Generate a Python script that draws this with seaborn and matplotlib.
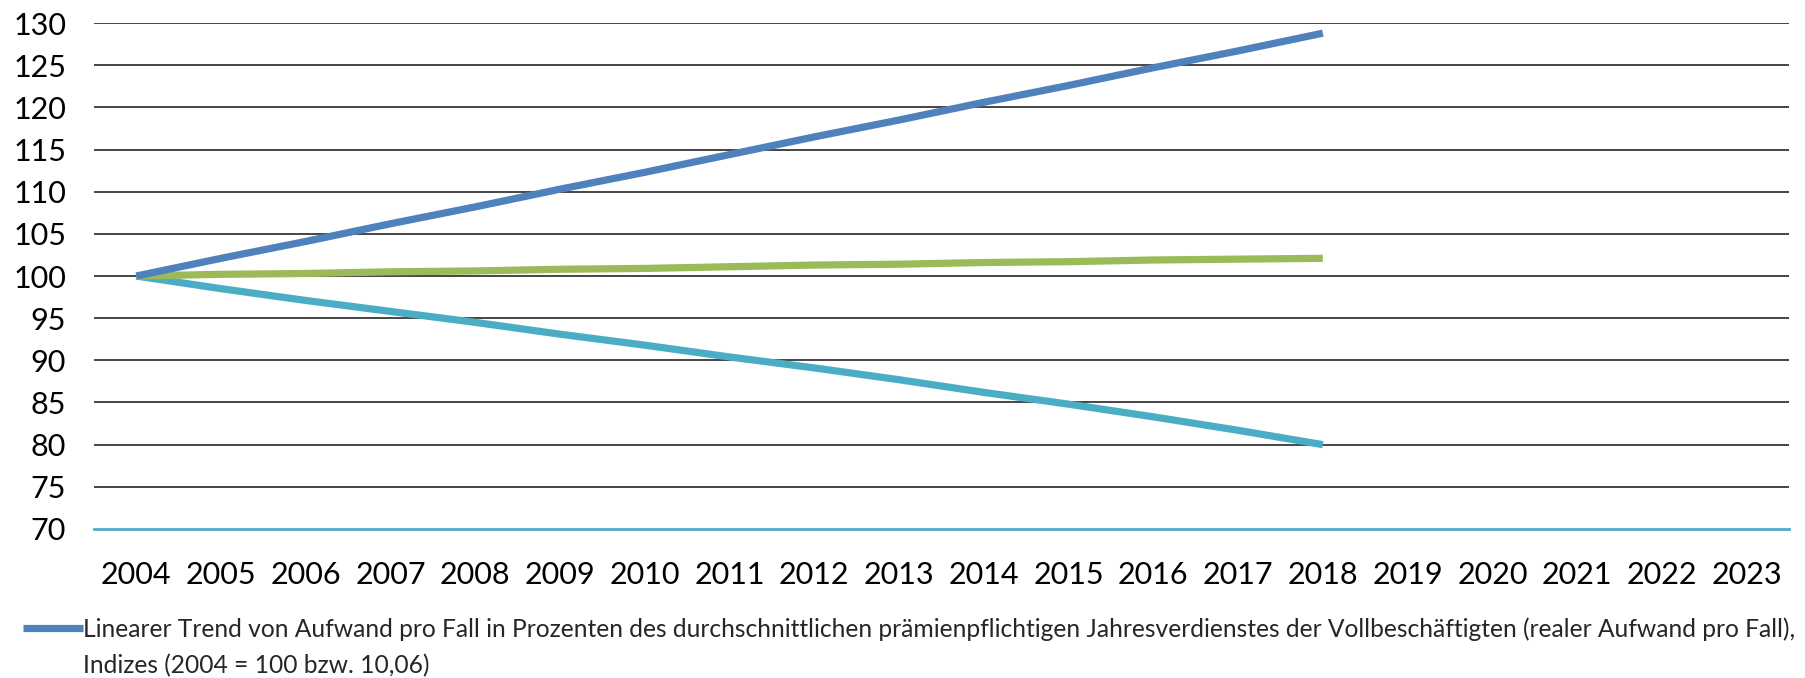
import matplotlib
matplotlib.use("Agg")
import matplotlib.pyplot as plt
import seaborn as sns
import pandas as pd
from matplotlib.lines import Line2D

# ---- data ----
years_axis = list(range(2004, 2024))
years = list(range(2004, 2019))
trend_aufwand = [100.0, 102.1, 104.1, 106.2, 108.2, 110.3, 112.3, 114.4, 116.5,
                 118.5, 120.6, 122.6, 124.7, 126.7, 128.8]
trend_green = [100.0, 100.2, 100.3, 100.5, 100.6, 100.8, 100.9, 101.1, 101.3,
               101.4, 101.6, 101.7, 101.9, 102.0, 102.1]
trend_lightblue = [100.0, 98.5, 97.1, 95.8, 94.5, 93.1, 91.8, 90.4, 89.1,
                   87.7, 86.2, 84.8, 83.3, 81.7, 80.0]
y_ticks = list(range(70, 131, 5))
legend_line1 = ("Linearer Trend von Aufwand pro Fall in Prozenten des durchschnittlichen "
                "prämienpflichtigen Jahresverdienstes der Vollbeschäftigten (realer Aufwand pro Fall),")
legend_line2 = "Indizes (2004 = 100 bzw. 10,06)"

colors = {"blue": "#4F81BD", "green": "#9BBB59", "lightblue": "#4BACC6"}

sns.set_theme(style="white")
plt.rcParams["font.family"] = ["Lato", "DejaVu Sans"]

df = pd.DataFrame({
    "Jahr": years * 3,
    "Wert": trend_aufwand + trend_green + trend_lightblue,
    "Serie": ["blue"] * len(years) + ["green"] * len(years) + ["lightblue"] * len(years),
})

fig = plt.figure(figsize=(18.06, 6.78), dpi=100)
ax = fig.add_axes([0.052, 0.2198, 0.9386, 0.7462])

for y in y_ticks[1:]:
    ax.axhline(y, color="#262626", lw=1.2, zorder=1)

sns.lineplot(data=df, x="Jahr", y="Wert", hue="Serie", palette=colors,
             hue_order=["lightblue", "green", "blue"],
             linewidth=5.2, ax=ax, legend=False, zorder=3)
for ln in ax.lines:
    ln.set_solid_capstyle("butt")

ax.set_xlim(2003.5, 2023.5)
ax.set_ylim(70, 130)
ax.set_xticks(years_axis)
ax.set_xticklabels([str(y) for y in years_axis])
ax.set_yticks(y_ticks)
ax.set_yticklabels([str(y) for y in y_ticks])
ax.set_xlabel("")
ax.set_ylabel("")
ax.tick_params(axis="x", length=0, pad=23, labelsize=22, colors="black")
ax.tick_params(axis="y", length=0, pad=20, labelsize=22, colors="black")
for s in ["top", "right", "left"]:
    ax.spines[s].set_visible(False)
ax.spines["bottom"].set_color(colors["lightblue"])
ax.spines["bottom"].set_linewidth(2.0)
ax.grid(False)

fs_leg = 17.7
handle = Line2D([0], [0], color=colors["blue"], lw=5.2, solid_capstyle="butt")
fig.legend([handle], [legend_line1], loc="center left",
           bbox_to_anchor=(23 / 1806, 1 - 629 / 678), frameon=False,
           handlelength=60 * 0.72 / fs_leg, handletextpad=0.0, borderaxespad=0, borderpad=0,
           prop={"family": ["Lato", "DejaVu Sans"], "size": fs_leg})
fig.text(83 / 1806, 1 - 666 / 678, legend_line2, fontsize=fs_leg, ha="left", va="center",
         family=["Lato", "DejaVu Sans"])

fig.savefig("out.png", dpi=100, facecolor="white")
